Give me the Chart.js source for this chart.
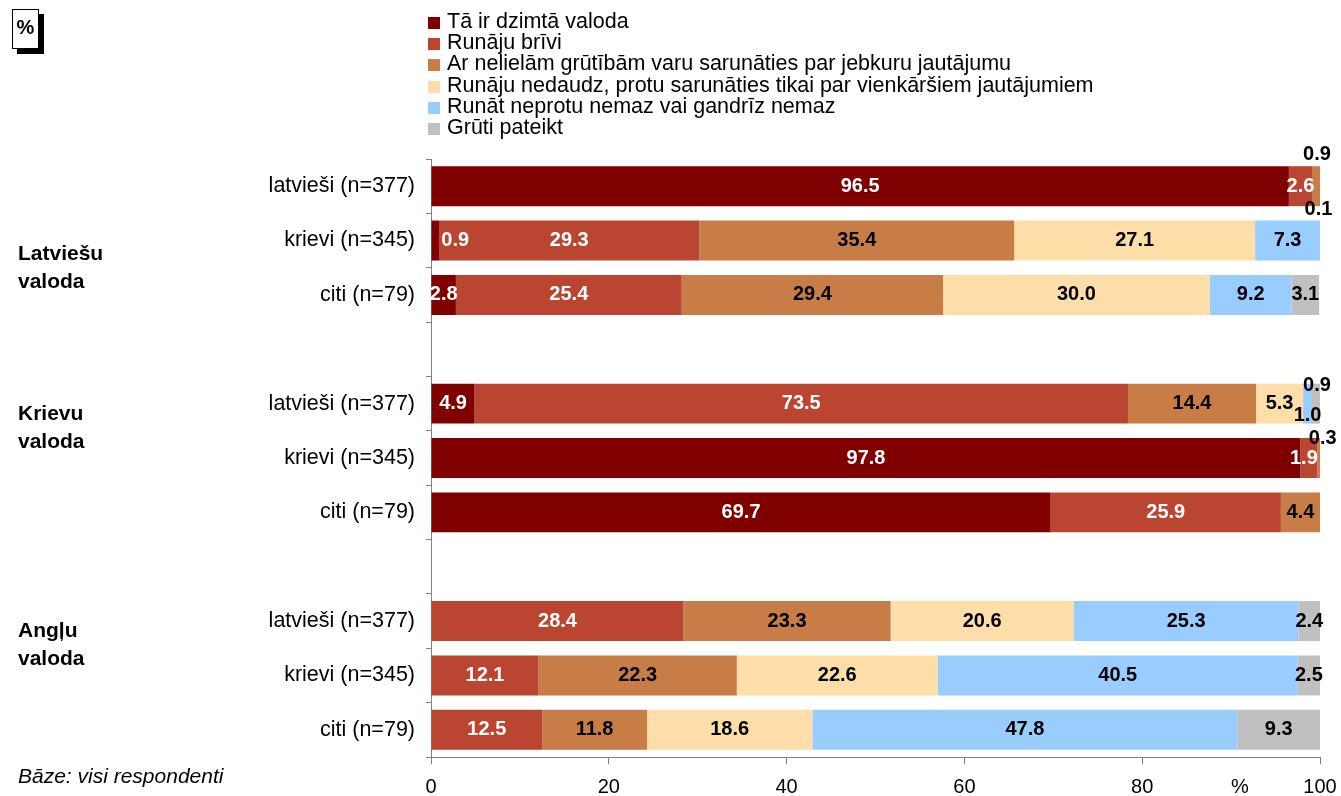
<!DOCTYPE html>
<html>
<head>
<meta charset="utf-8">
<script src="https://cdn.jsdelivr.net/npm/chart.js@4.4.0/dist/chart.umd.min.js"></script>
<style>
  body { margin: 0; background: #fff; font-family: "Liberation Sans", Arial, sans-serif; }
  #wrap { position: relative; width: 1341px; height: 796px; }
  #pctBox {
    position: absolute; left: 12px; top: 9px; width: 25px; height: 38px;
    border: 1px solid #000; background: #fff; box-shadow: 5px 5px 0 #000;
    font-weight: bold; font-size: 20px; text-align: center; line-height: 34px;
  }
  #legend { position: absolute; left: 428px; top: 11px; font-size: 21.5px; line-height: 21.2px; color: #000; }
  #legend .item { white-space: nowrap; }
  #legend .box { display: inline-block; width: 12px; height: 12px; margin-right: 7px; vertical-align: -1px; }
  #base { position: absolute; left: 18px; top: 764px; font-size: 21px; font-style: italic; }
</style>
</head>
<body>
<div id="wrap">
  <canvas id="chart" width="1341" height="796"></canvas>
  <div id="pctBox">%</div>
  <div id="legend"></div>
  <div id="base">Bāze: visi respondenti</div>
</div>
<script>
// rows: 3 groups of 3 respondent groups, empty rows between groups
const categories = [
  "latvieši (n=377)", "krievi (n=345)", "citi (n=79)", "",
  "latvieši (n=377)", "krievi (n=345)", "citi (n=79)", "",
  "latvieši (n=377)", "krievi (n=345)", "citi (n=79)"
];
const groupNames = [["Latviešu", "valoda"], ["Krievu", "valoda"], ["Angļu", "valoda"]];
const seriesNames = [
  "Tā ir dzimtā valoda",
  "Runāju brīvi",
  "Ar nelielām grūtībām varu sarunāties par jebkuru jautājumu",
  "Runāju nedaudz, protu sarunāties tikai par vienkāršiem jautājumiem",
  "Runāt neprotu nemaz vai gandrīz nemaz",
  "Grūti pateikt"
];
const native   = [96.5, 0.9, 2.8, null, 4.9, 97.8, 69.7, null, 0, 0, 0];
const fluent   = [2.6, 29.3, 25.4, null, 73.5, 1.9, 25.9, null, 28.4, 12.1, 12.5];
const someDiff = [0.9, 35.4, 29.4, null, 14.4, 0.3, 4.4, null, 23.3, 22.3, 11.8];
const little   = [0.1, 27.1, 30.0, null, 5.3, 0, 0, null, 20.6, 22.6, 18.6];
const noneAtAll = [0, 7.3, 9.2, null, 1.0, 0, 0, null, 25.3, 40.5, 47.8];
const hardToSay = [0, 0, 3.1, null, 0.9, 0, 0, null, 2.4, 2.5, 9.3];
const xTicks = [0, 20, 40, 60, 80, 100];

const seriesData = [native, fluent, someDiff, little, noneAtAll, hardToSay];
const colors = ["#800000", "#BA4530", "#C87C46", "#FDDEA8", "#99CCFF", "#C0C0C0"];
const labelColors = ["#fff", "#fff", "#000", "#000", "#000", "#000"];

// small segments whose labels were moved out of the bar: "row:series" -> [dx, dy, color]
const labelShift = {
  "0:2": [1, -32, "#000"],
  "0:3": [-2, 23, "#000"],
  "1:0": [20, 0, "#fff"],
  "4:4": [0, 12, "#000"],
  "4:5": [1, -18, "#000"],
  "5:2": [4, -20, "#000"],
  "5:1": [-5, 0, "#fff"]
};
const groupPos = [1.5, 4.45, 8.45];

const legendEl = document.getElementById("legend");
seriesNames.forEach((name, i) => {
  const d = document.createElement("div");
  d.className = "item";
  d.innerHTML = '<span class="box" style="background:' + colors[i] + '"></span>' + name;
  legendEl.appendChild(d);
});

const font = "'Liberation Sans', Arial, sans-serif";

const barLabels = {
  id: "barLabels",
  afterDatasetsDraw(chart) {
    const ctx = chart.ctx;
    ctx.save();
    ctx.font = "bold 20px " + font;
    ctx.textAlign = "center";
    ctx.textBaseline = "middle";
    chart.data.datasets.forEach((ds, si) => {
      const meta = chart.getDatasetMeta(si);
      meta.data.forEach((bar, ri) => {
        const v = ds.data[ri];
        if (!v) return;
        const shift = labelShift[ri + ":" + si];
        let x = (bar.x + bar.base) / 2, y = bar.y;
        ctx.fillStyle = labelColors[si];
        if (shift) { x += shift[0]; y += shift[1]; ctx.fillStyle = shift[2]; }
        ctx.fillText(v.toFixed(1), x, y);
      });
    });
    ctx.restore();
  },
  afterDraw(chart) {
    const ctx = chart.ctx;
    const ys = chart.scales.y, xs = chart.scales.x;
    ctx.save();
    ctx.fillStyle = "#000";
    ctx.textAlign = "left";
    ctx.textBaseline = "middle";
    ctx.font = "bold 21px " + font;
    groupNames.forEach((lines, g) => {
      const yc = ys.getPixelForValue(groupPos[g]);
      ctx.fillText(lines[0], 18, yc - 14);
      ctx.fillText(lines[1], 18, yc + 14);
    });
    ctx.font = "20px " + font;
    ctx.textAlign = "center";
    ctx.fillText("%", xs.getPixelForValue(91), xs.bottom - 9);
    ctx.restore();
  }
};

new Chart(document.getElementById("chart"), {
  type: "bar",
  data: {
    labels: categories,
    datasets: seriesData.map((d, i) => ({
      label: seriesNames[i],
      data: d,
      backgroundColor: colors[i],
      borderWidth: 0,
      barPercentage: 0.735,
      categoryPercentage: 1
    }))
  },
  options: {
    indexAxis: "y",
    responsive: false,
    animation: false,
    layout: { padding: { top: 159, right: 21, left: 0, bottom: 0 } },
    plugins: { legend: { display: false }, tooltip: { enabled: false } },
    scales: {
      x: {
        stacked: true,
        min: 0,
        max: 100,
        afterFit: (s) => { s.height = 39; s.paddingLeft = 0; s.paddingRight = 0; },
        afterBuildTicks: (s) => { s.ticks = xTicks.map((v) => ({ value: v })); },
        grid: { drawOnChartArea: false, tickLength: 7, color: "#808080" },
        border: { color: "#808080" },
        ticks: { color: "#000", padding: 11, font: { size: 20, family: font }, maxRotation: 0 }
      },
      y: {
        stacked: true,
        afterFit: (s) => { s.width = 431; s.paddingTop = 0; s.paddingBottom = 0; },
        grid: { offset: true, drawOnChartArea: false, tickLength: 5, color: "#808080" },
        border: { color: "#808080" },
        ticks: { color: "#000", padding: 11, font: { size: 21.5, family: font }, autoSkip: false }
      }
    }
  },
  plugins: [barLabels]
});
</script>
</body>
</html>
